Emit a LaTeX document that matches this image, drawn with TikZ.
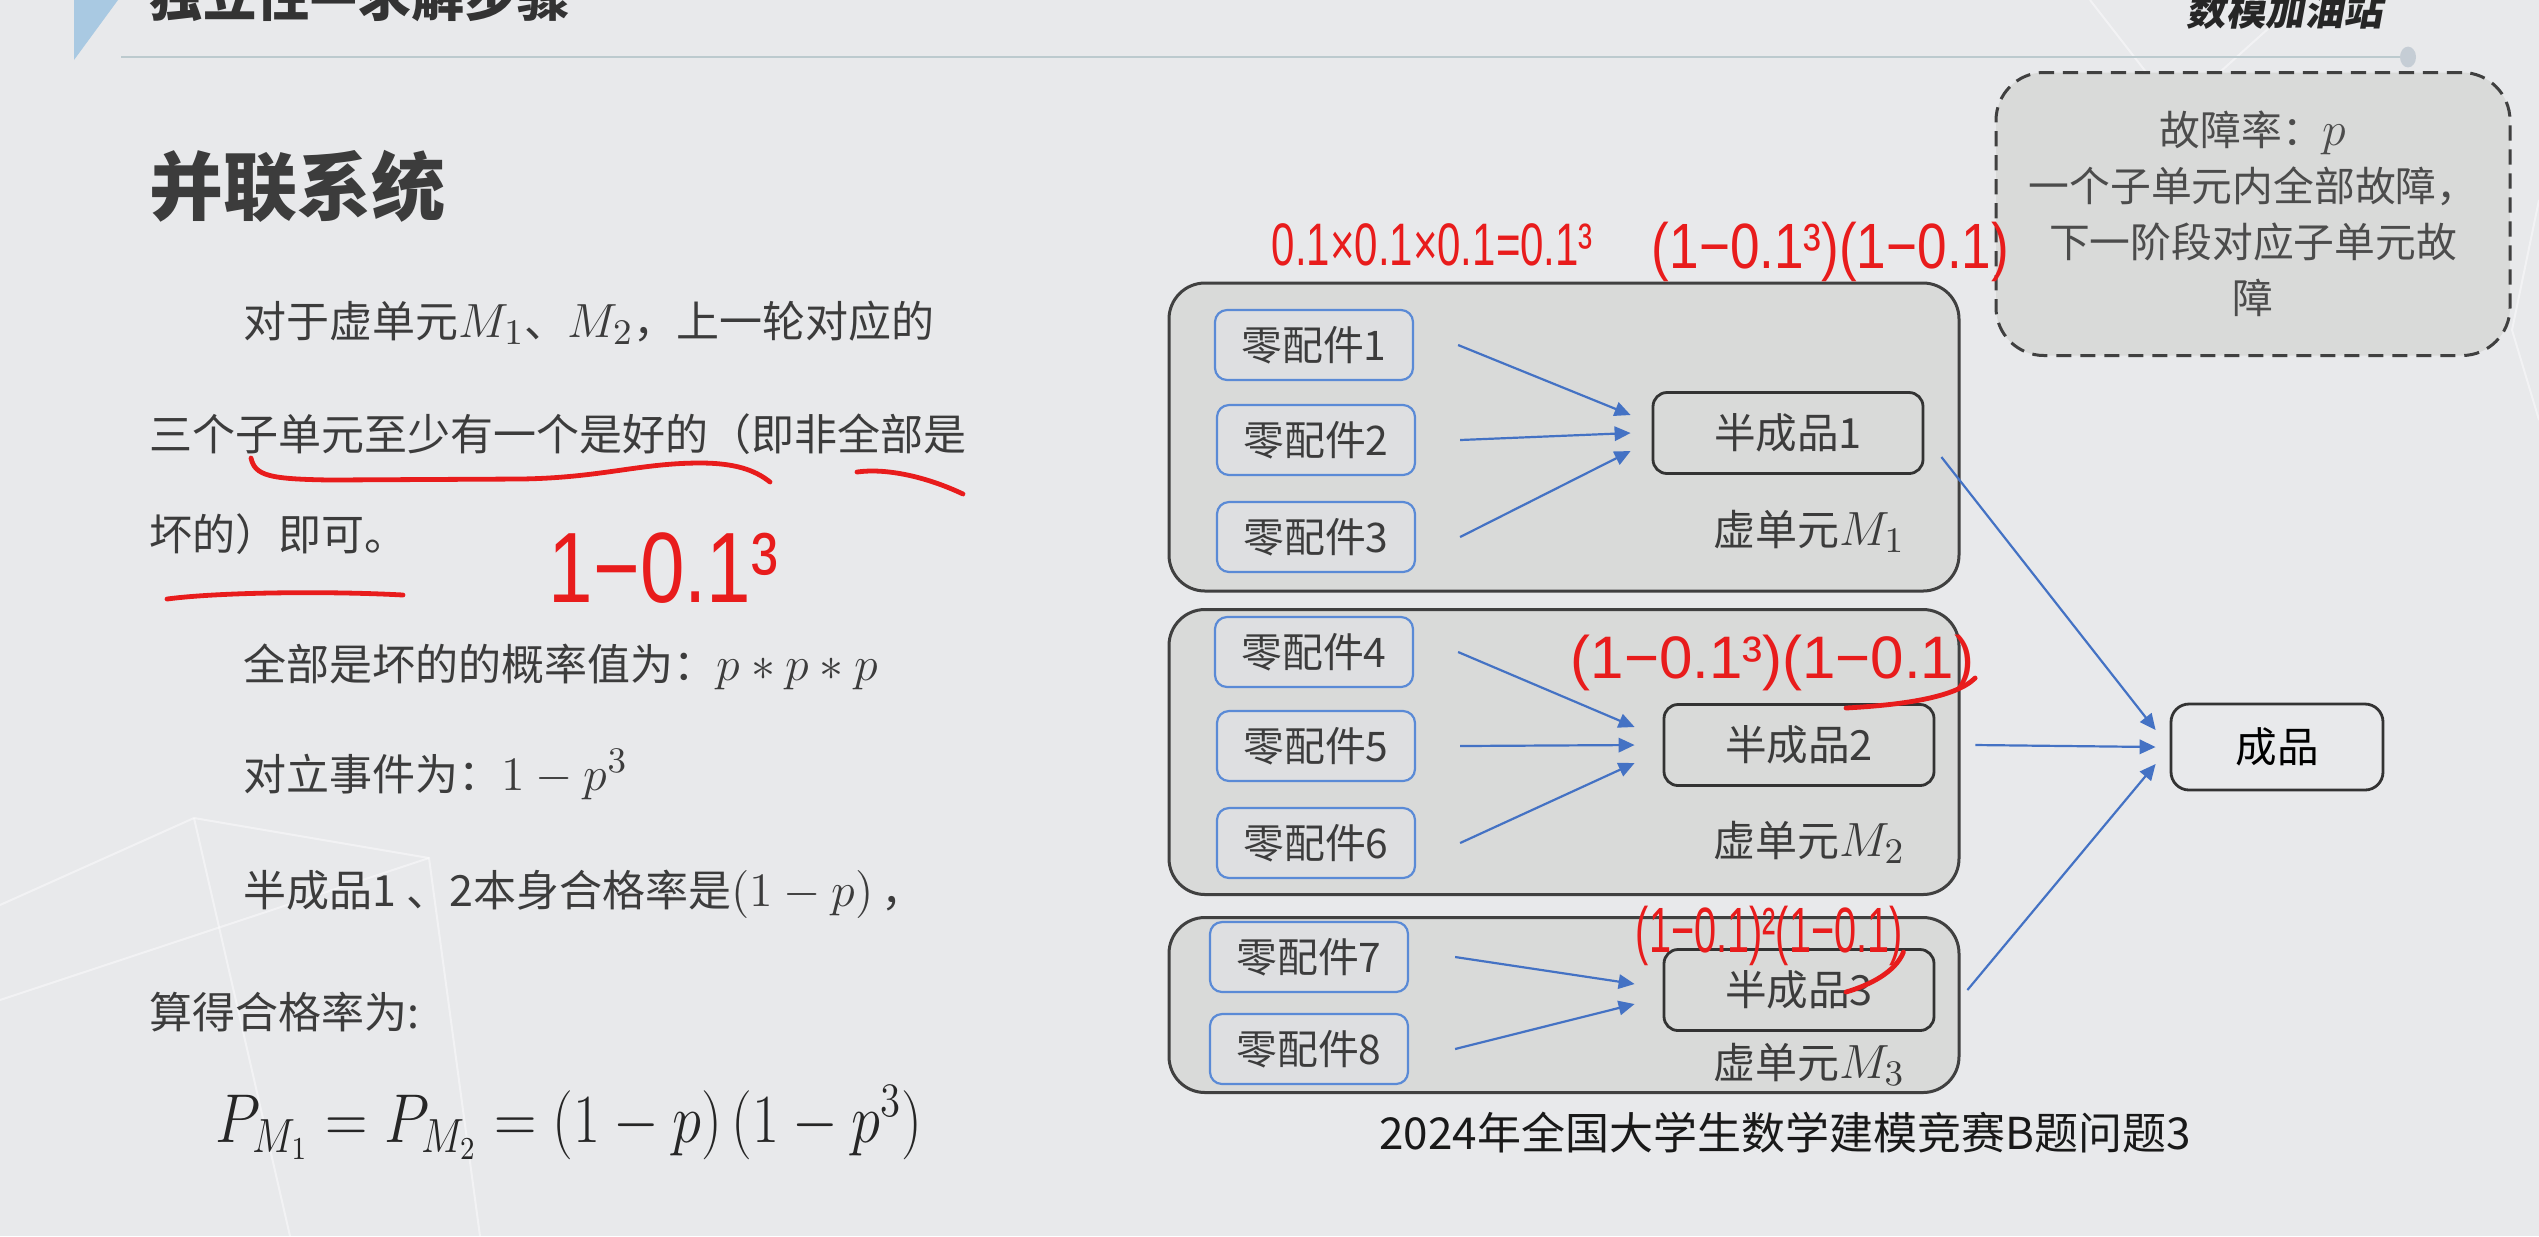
\documentclass[tikz,border=0pt]{standalone}
\usepackage{fontspec}
\usepackage{graphicx}
\setmainfont{Noto Sans CJK SC}
\newfontfamily\hand{Liberation Sans}
\newfontfamily\slantcjk[FakeSlant=0.18]{Noto Sans CJK SC}
\usetikzlibrary{arrows.meta,calc}
\definecolor{bg}{HTML}{E8E9EB}
\definecolor{txt}{HTML}{3C3C3C}
\definecolor{grpfill}{HTML}{D9DAD9}
\definecolor{partfill}{HTML}{DEDFE1}
\definecolor{bluel}{HTML}{5A8AD6}
\definecolor{arr}{HTML}{4472C4}
\definecolor{redh}{HTML}{E81C1C}
\definecolor{linec}{HTML}{BCCACE}
\definecolor{dotc}{HTML}{C5CDD5}
\definecolor{tri}{HTML}{A9C9E2}
\newcommand\mth[1]{{\fontsize{12.4}{13}\selectfont$#1$}}
\begin{document}
\begin{tikzpicture}[x=0.25pt,y=-0.25pt,
  part/.style={draw=bluel, line width=0.55pt, fill=partfill, rounded corners=3pt,
    minimum width=49.5pt, minimum height=17.5pt, inner sep=0pt,
    font=\fontsize{10.2}{12}\selectfont, text=txt},
  semi/.style={draw=black!80, line width=0.7pt, fill=grpfill, rounded corners=3.5pt,
    minimum width=67.5pt, minimum height=20.25pt, inner sep=0pt,
    font=\fontsize{10.4}{12}\selectfont, text=txt},
  grpbox/.style={draw=black!75, line width=0.75pt, fill=grpfill, rounded corners=9pt,
    minimum width=197.5pt, inner sep=0pt},
  flow/.style={draw=arr, line width=0.55pt, -{Triangle[length=4pt,width=3.6pt]}},
  body/.style={anchor=base west, text=txt, font=\fontsize{10.75}{13}\selectfont, inner sep=0pt},
  redline/.style={draw=redh, line width=1.2pt, line cap=round, line join=round},
  redtext/.style={text=redh, inner sep=0pt, anchor=base west}
]
\useasboundingbox (0,0) rectangle (2539,1236);
\fill[bg] (0,0) rectangle (2539,1236);
% faint decoration
\draw[white, opacity=0.45, line width=0.5pt] (0,905) -- (194,818) -- (429,858) -- (480,1236);
\draw[white, opacity=0.45, line width=0.5pt] (194,818) -- (290,1236);
\draw[white, opacity=0.45, line width=0.5pt] (0,1000) -- (429,858);
\draw[white, opacity=0.45, line width=0.5pt] (2090,0) -- (2160,90);
\draw[white, opacity=0.45, line width=0.5pt] (2300,0) -- (2200,90);
\draw[white, opacity=0.45, line width=0.5pt] (2539,200) -- (2512,330) -- (2539,420);
% header
\fill[tri] (74,0) -- (118,0) -- (74,60) -- cycle;
\draw[linec, line width=0.6pt] (121,57) -- (2400,57);
\fill[dotc] (2408,57) ellipse (2pt and 2.6pt);
\node[anchor=base west, inner sep=0pt, text=black!80, font=\bfseries\fontsize{13.3}{14}\selectfont] (title) at (149,16) {独立性—求解步骤};
\node[anchor=base west, inner sep=0pt, text=black!85, font=\slantcjk\bfseries\fontsize{9.8}{11}\selectfont] (brand) at (2186,25) {数模加油站};
% left text
\node[anchor=base west, inner sep=0pt, text=txt, font=\bfseries\fontsize{18.5}{20}\selectfont] (head) at (149,214) {并联系统};
\node[body] (l1) at (243,337) {对于虚单元\mth{M_1}、\mth{M_2}，上一轮对应的};
\node[body] (l2) at (149,450) {三个子单元至少有一个是好的（即非全部是};
\node[body] (l3) at (149,550) {坏的）即可。};
\node[body] (l4) at (243,680) {全部是坏的的概率值为：\mth{p*p*p}};
\node[body] (l5) at (243,790) {对立事件为：\mth{1-p^3}};
\node[body] (l6) at (243,906) {半成品1\hspace{2.5pt}、2本身合格率是\mth{(1-p)}\hspace{2pt}，};
\node[body] (l7) at (149,1028) {算得合格率为:};
\node[anchor=base west, inner sep=0pt, text=black!85] (fm) at (215,1142) {\scalebox{0.85}[1]{\fontsize{17}{20}\selectfont$P_{M_1}=P_{M_2}=(1-p)\,(1-p^3)$}};
% groups
\node[grpbox, minimum height=77pt] (g1) at (1564,437) {};
\node[grpbox, minimum height=71.25pt] (g2) at (1564,752) {};
\node[grpbox, minimum height=43.75pt] (g3) at (1564,1005) {};
% parts
\node[part] (p1) at (1314,345) {零配件1};
\node[part] (p2) at (1316,440) {零配件2};
\node[part] (p3) at (1316,537) {零配件3};
\node[part] (p4) at (1314,652) {零配件4};
\node[part] (p5) at (1316,746) {零配件5};
\node[part] (p6) at (1316,843) {零配件6};
\node[part] (p7) at (1309,957) {零配件7};
\node[part] (p8) at (1309,1049) {零配件8};
% semi products
\node[semi] (s1) at (1788,433) {半成品1};
\node[semi] (s2) at (1799,745) {半成品2};
\node[semi] (s3) at (1799,990) {半成品3};
\node[semi, fill=bg, minimum width=53pt, minimum height=21.5pt, rounded corners=4.5pt, text=black] (f) at (2277,747) {成品};
% labels
\node[text=txt, font=\fontsize{10.5}{12}\selectfont, inner sep=0pt] (m1) at (1809,531) {虚单元\mth{M_1}};
\node[text=txt, font=\fontsize{10.5}{12}\selectfont, inner sep=0pt] (m2) at (1809,842) {虚单元\mth{M_2}};
\node[text=txt, font=\fontsize{10.5}{12}\selectfont, inner sep=0pt] (m3) at (1809,1064) {虚单元\mth{M_3}};
% arrows
\draw[flow] ([xshift=11pt]p1.east) -- ([xshift=-5.25pt,yshift=4.5pt]s1.west);
\draw[flow] ([xshift=11pt]p2.east) -- ([xshift=-5.25pt]s1.west);
\draw[flow] ([xshift=11pt]p3.east) -- ([xshift=-5.25pt,yshift=-4.5pt]s1.west);
\draw[flow] ([xshift=11pt]p4.east) -- ([xshift=-7pt,yshift=4.5pt]s2.west);
\draw[flow] ([xshift=11pt]p5.east) -- ([xshift=-7pt]s2.west);
\draw[flow] ([xshift=11pt]p6.east) -- ([xshift=-7pt,yshift=-4.5pt]s2.west);
\draw[flow] ([xshift=11.5pt]p7.east) -- ([xshift=-7pt,yshift=1.5pt]s3.west);
\draw[flow] ([xshift=11.5pt]p8.east) -- ([xshift=-7pt,yshift=-3.5pt]s3.west);
\draw[flow] ([xshift=4.25pt,yshift=-6pt]s1.east) -- ([xshift=-3.5pt,yshift=4.25pt]f.west);
\draw[flow] ([xshift=10pt]s2.east) -- ([xshift=-3.5pt]f.west);
\draw[flow] ([xshift=8pt]s3.east) -- ([xshift=-3.5pt,yshift=-4.25pt]f.west);
% note box
\node[draw=black!75, dashed, dash pattern=on 3.8pt off 2.2pt, line width=0.75pt, fill=grpfill,
  rounded corners=12pt, minimum width=128.5pt, minimum height=70.75pt, align=center,
  text=black!70, font=\fontsize{10.2}{14}\selectfont] (note) at (2253,214)
  {故障率：\mth{p}\\一个子单元内全部故障，\\下一阶段对应子单元故\\障};
% caption
\node[text=black!90, font=\fontsize{11}{13}\selectfont, inner sep=0pt] (cap) at (1785,1133) {2024年全国大学生数学建模竞赛B题问题3};
% red handwriting
\draw[redline] (251,458) .. controls (255,476) and (270,479) .. (330,480) -- (520,479)
  .. controls (600,478) and (640,463) .. (700,463) .. controls (735,463) and (755,470) .. (770,482);
\draw[redline] (857,472) .. controls (885,468) and (925,476) .. (963,494);
\draw[redline] (167,599) .. controls (220,592) and (330,591) .. (403,595);
\node[redtext] (h1) at (548,602) {\hand\fontsize{25}{25}\selectfont\scalebox{0.8}[1]{1−0.1³}};
\node[redtext] (h2) at (1271,265) {\hand\fontsize{15}{15}\selectfont\scalebox{0.7}[1]{0.1×0.1×0.1=0.1³}};
\node[redtext] (h3) at (1651,268) {\hand\fontsize{16}{16}\selectfont\scalebox{0.83}[1]{(1−0.1³)(1−0.1)}};
\node[redtext] (h4) at (1570,678) {\hand\fontsize{15}{15}\selectfont(1−0.1³)(1−0.1)};
\node[redtext] (h5) at (1635,952) {\hand\fontsize{16}{16}\selectfont\scalebox{0.62}[1]{(1−0.1)²(1−0.1)}};
\draw[redline] (h4.base east) .. controls +(-20,20) and (1900,705) .. (1846,708);
\draw[redline] (h5.base east) .. controls +(-8,20) and (1870,985) .. (1846,992);
\end{tikzpicture}
\end{document}
